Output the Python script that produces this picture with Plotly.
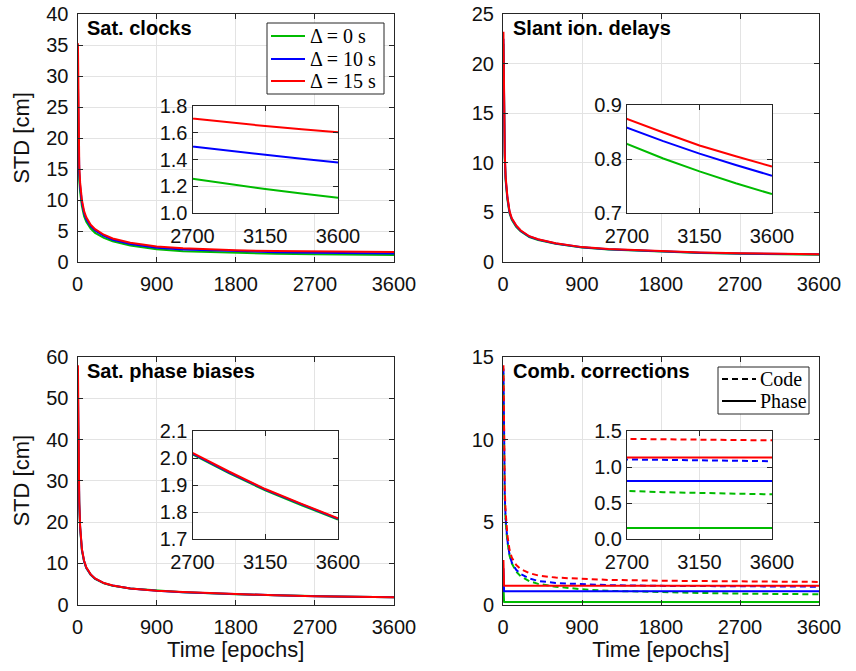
import plotly.graph_objects as go

# ---------------- data ----------------
epochs = [5, 8, 12, 20, 30, 50, 75, 100, 150, 200, 300, 400, 600, 900,
          1200, 1800, 2250, 2700, 2925, 3150, 3375, 3600]

delta_names = ["Δ = 0 s", "Δ = 10 s", "Δ = 15 s"]
combo_names = ["Code", "Phase"]

clock_d0 = [21, 19, 16.5, 13.2, 11.3, 9.0, 7.4, 6.5, 5.4, 4.7, 3.9, 3.35, 2.65, 2.05,
            1.72, 1.45, 1.34, 1.256, 1.216, 1.179, 1.146, 1.114]
clock_d10 = [29, 24, 19, 14.5, 12.2, 9.6, 7.9, 6.9, 5.8, 5.1, 4.2, 3.6, 2.9, 2.3,
             2.0, 1.7, 1.59, 1.497, 1.465, 1.435, 1.405, 1.378]
clock_d15 = [35.3, 28, 21, 15.5, 12.8, 10.0, 8.2, 7.2, 6.0, 5.3, 4.4, 3.8, 3.1, 2.5,
             2.2, 1.88, 1.78, 1.706, 1.676, 1.650, 1.626, 1.604]

ion_d0 = [22, 18, 14.2, 10.5, 8.2, 6.3, 4.9, 4.25, 3.55, 3.1, 2.52, 2.22, 1.83, 1.45,
          1.25, 1.02, 0.91, 0.828, 0.801, 0.777, 0.755, 0.735]
ion_d10 = [22.5, 18.5, 14.6, 10.8, 8.4, 6.5, 5.0, 4.35, 3.65, 3.15, 2.57, 2.27, 1.87, 1.48,
           1.28, 1.05, 0.945, 0.858, 0.833, 0.810, 0.789, 0.769]
ion_d15 = [23.2, 19, 15, 11, 8.6, 6.6, 5.1, 4.4, 3.7, 3.2, 2.6, 2.3, 1.9, 1.5,
           1.3, 1.07, 0.96, 0.874, 0.849, 0.825, 0.805, 0.786]

bias_d0 = [45, 40, 32, 24, 18.4, 13.1, 10.4, 8.85, 7.2, 6.2, 5.14, 4.56, 3.86, 3.33,
           2.98, 2.48, 2.21, 2.013, 1.944, 1.880, 1.825, 1.772]
bias_d10 = [52, 44, 34, 24.5, 18.7, 13.3, 10.5, 8.9, 7.25, 6.25, 5.17, 4.58, 3.88, 3.34,
            2.99, 2.49, 2.215, 2.016, 1.947, 1.883, 1.828, 1.775]
bias_d15 = [58, 46, 35, 25, 19, 13.5, 10.6, 9.0, 7.3, 6.3, 5.2, 4.6, 3.9, 3.35,
            3.0, 2.5, 2.22, 2.019, 1.950, 1.885, 1.830, 1.777]

code_d0 = [14.0, 12, 9.0, 6.3, 5.0, 3.8, 2.95, 2.5, 2.0, 1.72, 1.42, 1.25, 1.08, 0.92,
           0.83, 0.74, 0.70, 0.66, 0.65, 0.64, 0.63, 0.62]
code_d10 = [14.3, 12.5, 9.5, 6.6, 5.2, 3.9, 3.0, 2.55, 2.1, 1.85, 1.58, 1.43, 1.3, 1.22,
            1.17, 1.13, 1.115, 1.10, 1.095, 1.09, 1.085, 1.08]
code_d15 = [14.5, 13, 10, 7, 5.6, 4.2, 3.3, 2.85, 2.4, 2.15, 1.9, 1.76, 1.63, 1.54,
            1.49, 1.44, 1.41, 1.39, 1.385, 1.38, 1.375, 1.37]
phase_d0 = [1.2, 0.2, 0.16, 0.155, 0.154, 0.154, 0.154, 0.154, 0.154, 0.154, 0.154, 0.154,
            0.154, 0.154, 0.154, 0.154, 0.154, 0.154, 0.154, 0.154, 0.154, 0.154]
phase_d10 = [2.2, 0.85, 0.81, 0.805, 0.804, 0.804, 0.804, 0.804, 0.804, 0.804, 0.804, 0.804,
             0.804, 0.804, 0.804, 0.804, 0.804, 0.804, 0.804, 0.804, 0.804, 0.804]
phase_d15 = [2.7, 1.2, 1.14, 1.135, 1.133, 1.132, 1.131, 1.131, 1.131, 1.131, 1.131, 1.131,
             1.131, 1.131, 1.131, 1.131, 1.131, 1.131, 1.131, 1.131, 1.131, 1.131]

panel_titles = ["Sat. clocks", "Slant ion. delays", "Sat. phase biases", "Comb. corrections"]
main_x_ticks = [0, 900, 1800, 2700, 3600]
inset_x_ticks = [2700, 3150, 3600]
main_y_ranges = [[0, 40], [0, 25], [0, 60], [0, 15]]
main_y_dticks = [5, 5, 10, 5]
inset_y_ranges = [[1.0, 1.8], [0.7, 0.9], [1.7, 2.1], [0.0, 1.5]]
inset_y_dticks = [0.2, 0.1, 0.1, 0.5]

# ---------------- styling ----------------
COLORS = ["#00bb00", "#0000ff", "#ff0000"]
DASH = "6px,4px"
AX = "#262626"
GRID = "#e3e3e3"
TXT = "#111111"
SANS = "Liberation Sans, Arial, Helvetica, sans-serif"
SERIF = "Liberation Serif, DejaVu Serif, serif"
W, H = 856, 671

def px_dom_x(a, b):
    return [a / W, b / W]

def px_dom_y(top, bottom):
    return [1 - bottom / H, 1 - top / H]

main_dom = [
    (px_dom_x(77.5, 394), px_dom_y(14, 262)),
    (px_dom_x(503, 819), px_dom_y(14, 262)),
    (px_dom_x(77.5, 394), px_dom_y(357, 604.5)),
    (px_dom_x(503, 819), px_dom_y(357, 604.5)),
]
inset_dom = [
    (px_dom_x(192.5, 338), px_dom_y(106, 213)),
    (px_dom_x(627, 772), px_dom_y(105, 213)),
    (px_dom_x(192.5, 338), px_dom_y(431, 539)),
    (px_dom_x(627, 772), px_dom_y(431, 539)),
]

fig = go.Figure()

series = [
    [clock_d0, clock_d10, clock_d15],
    [ion_d0, ion_d10, ion_d15],
    [bias_d0, bias_d10, bias_d15],
]

def axis_common():
    return dict(
        showline=True, linecolor=AX, linewidth=1, mirror="ticks",
        ticks="inside", ticklen=5, tickcolor=AX, tickwidth=1,
        showgrid=True, gridcolor=GRID, gridwidth=1, zeroline=False,
        automargin=False,
        tickfont=dict(family=SANS, size=20, color=TXT),
    )

layout = {}
for i in range(4):
    mi = i + 1
    ii = i + 5
    mx = "x" if mi == 1 else f"x{mi}"
    my = "y" if mi == 1 else f"y{mi}"
    ix, iy = f"x{ii}", f"y{ii}"

    if i < 3:
        for k in range(3):
            for (xa, ya) in [(mx, my), (ix, iy)]:
                fig.add_trace(go.Scatter(
                    x=epochs, y=series[i][k], mode="lines", name=delta_names[k],
                    line=dict(color=COLORS[k], width=2),
                    xaxis=xa, yaxis=ya, showlegend=False, hoverinfo="skip"))
    else:
        codes = [code_d0, code_d10, code_d15]
        phases = [phase_d0, phase_d10, phase_d15]
        for k in range(3):
            for (xa, ya) in [(mx, my), (ix, iy)]:
                fig.add_trace(go.Scatter(
                    x=epochs, y=codes[k], mode="lines", name=f"{combo_names[0]} {delta_names[k]}",
                    line=dict(color=COLORS[k], width=2, dash=DASH),
                    xaxis=xa, yaxis=ya, showlegend=False, hoverinfo="skip"))
                fig.add_trace(go.Scatter(
                    x=epochs, y=phases[k], mode="lines", name=f"{combo_names[1]} {delta_names[k]}",
                    line=dict(color=COLORS[k], width=2),
                    xaxis=xa, yaxis=ya, showlegend=False, hoverinfo="skip"))

    # main axes
    xd, yd = main_dom[i]
    xax = axis_common()
    xax.update(domain=xd, range=[0, 3600], tickvals=main_x_ticks, anchor=my, ticklabelstandoff=4)
    if i >= 2:
        xax.update(title=dict(text="Time [epochs]", font=dict(family=SANS, size=22, color=TXT),
                              standoff=4))
    yax = axis_common()
    yax.update(domain=yd, range=main_y_ranges[i], dtick=main_y_dticks[i], tick0=0, anchor=mx,
               ticklabelstandoff=4)
    if i % 2 == 0:
        yax.update(title=dict(text="STD [cm]", font=dict(family=SANS, size=22, color=TXT),
                              standoff=10))
    layout["xaxis" if mi == 1 else f"xaxis{mi}"] = xax
    layout["yaxis" if mi == 1 else f"yaxis{mi}"] = yax

    # inset axes
    xd, yd = inset_dom[i]
    xin = axis_common()
    xin.update(domain=xd, range=[inset_x_ticks[0], inset_x_ticks[-1]], tickvals=inset_x_ticks,
               anchor=iy, ticklabelstandoff=5)
    yin = axis_common()
    yin.update(domain=yd, range=inset_y_ranges[i], dtick=inset_y_dticks[i],
               tick0=inset_y_ranges[i][0], tickformat=".1f", anchor=ix, ticklabelstandoff=0)
    layout[f"xaxis{ii}"] = xin
    layout[f"yaxis{ii}"] = yin

    # white background of the inset, drawn in the inset's own layer
    fig.add_shape(type="rect", xref=ix, yref=iy,
                  x0=inset_x_ticks[0], x1=inset_x_ticks[-1],
                  y0=inset_y_ranges[i][0], y1=inset_y_ranges[i][1],
                  fillcolor="white", line=dict(width=0), layer="below")

    # panel title
    fig.add_annotation(text=f"<b>{panel_titles[i]}</b>", xref=f"{mx} domain", yref=f"{my} domain",
                       x=0.025, y=0.943, xanchor="left", yanchor="middle", showarrow=False,
                       font=dict(family=SANS, size=20, color="black"))

# ---------------- legends (boxed keys, as in the reference) ----------------
def add_key(box, rows, lx0, lx1, tx):
    x0, y0, x1, y1 = box
    fig.add_shape(type="rect", xref="paper", yref="paper",
                  x0=x0 / W, x1=x1 / W, y0=1 - y1 / H, y1=1 - y0 / H,
                  fillcolor="white", line=dict(color=AX, width=1), layer="above")
    for (label, color, dash, yy) in rows:
        fig.add_shape(type="line", xref="paper", yref="paper",
                      x0=lx0 / W, x1=lx1 / W, y0=1 - yy / H, y1=1 - yy / H,
                      line=dict(color=color, width=2, dash=dash), layer="above")
        fig.add_annotation(text=label, xref="paper", yref="paper", x=tx / W, y=1 - yy / H,
                           xanchor="left", yanchor="middle", showarrow=False,
                           font=dict(family=SERIF, size=20, color="black"))

add_key((267, 23, 384, 94),
        [(delta_names[0], COLORS[0], "solid", 36),
         (delta_names[1], COLORS[1], "solid", 59),
         (delta_names[2], COLORS[2], "solid", 81)],
        271, 305, 308)
add_key((718, 367, 809, 414),
        [(combo_names[0], "black", DASH, 379),
         (combo_names[1], "black", "solid", 401)],
        722, 756, 758)

fig.update_layout(**layout)
fig.update_layout(
    width=W, height=H,
    margin=dict(l=0, r=0, t=0, b=0),
    paper_bgcolor="white", plot_bgcolor="white",
    showlegend=False,
)

fig.write_html("out.html", config={"displayModeBar": False},
               post_script="document.body.style.margin='0px';")
